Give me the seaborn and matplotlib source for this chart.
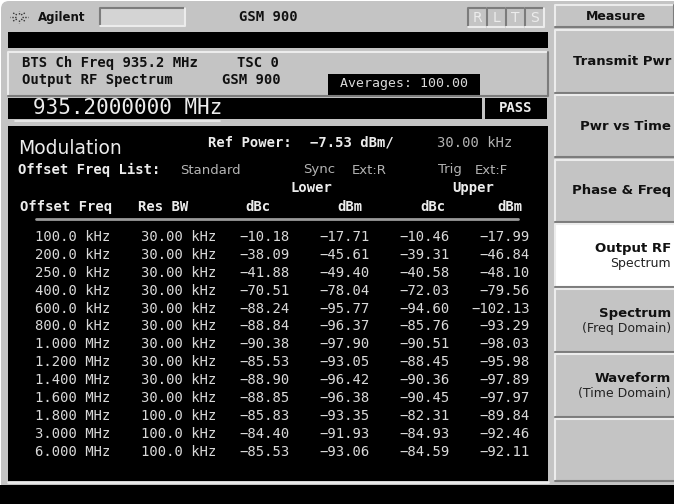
import matplotlib
matplotlib.use("Agg")
import matplotlib.pyplot as plt
from matplotlib.patches import Rectangle, FancyBboxPatch
import numpy as np
import seaborn as sns

# table
offset_freq = ["100.0 kHz", "200.0 kHz", "250.0 kHz", "400.0 kHz", "600.0 kHz",
               "800.0 kHz", "1.000 MHz", "1.200 MHz", "1.400 MHz", "1.600 MHz",
               "1.800 MHz", "3.000 MHz", "6.000 MHz"]
res_bw = ["30.00 kHz"] * 10 + ["100.0 kHz"] * 3
lower_dbc = [-10.18, -38.09, -41.88, -70.51, -88.24, -88.84, -90.38, -85.53,
             -88.90, -88.85, -85.83, -84.40, -85.53]
lower_dbm = [-17.71, -45.61, -49.40, -78.04, -95.77, -96.37, -97.90, -93.05,
             -96.42, -96.38, -93.35, -91.93, -93.06]
upper_dbc = [-10.46, -39.31, -40.58, -72.03, -94.60, -85.76, -90.51, -88.45,
             -90.36, -90.45, -82.31, -84.93, -84.59]
upper_dbm = [-17.99, -46.84, -48.10, -79.56, -102.13, -93.29, -98.03, -95.98,
             -97.89, -97.97, -89.84, -92.46, -92.11]

softkeys = [("Transmit Pwr", ""), ("Pwr vs Time", ""), ("Phase & Freq", ""),
            ("Output RF", "Spectrum"), ("Spectrum", "(Freq Domain)"),
            ("Waveform", "(Time Domain)"), ("", "")]
active_key = 3

sns.set_theme(style="white")
plt.rcParams['font.family'] = ['DejaVu Sans']
MONO = "DejaVu Sans Mono"

GRAY = "#c4c4c4"
LIGHT = "#ececec"
DARK = "#7c7c7c"
TXT = "#dadada"
DIM = "#b4b4b4"

fig = plt.figure(figsize=(6.74, 5.04), dpi=100)
ax = fig.add_axes([0, 0, 1, 1])
ax.set_xlim(0, 674)
ax.set_ylim(504, 0)
ax.axis("off")
fig.patch.set_facecolor("white")


def box(x0, y0, x1, y1, face=GRAY, bevel=True, inset=False):
    ax.add_patch(Rectangle((x0, y0), x1 - x0, y1 - y0, facecolor=face,
                           edgecolor="none"))
    if bevel:
        hi, lo = (DARK, LIGHT) if inset else (LIGHT, DARK)
        ax.plot([x0, x0, x1], [y1, y0, y0], color=hi, lw=1.5)
        ax.plot([x0, x1, x1], [y1, y1, y0], color=lo, lw=1.5)


# body of the instrument
ax.add_patch(FancyBboxPatch((1, 1), 680, 520, boxstyle="round,pad=0,rounding_size=8",
                            facecolor=GRAY, edgecolor="none"))

# title bar
cx, cy = 19, 17
for a in np.linspace(0, 2 * np.pi, 8, endpoint=False):
    ax.plot([cx + 3 * np.cos(a), cx + 9 * np.cos(a)],
            [cy + 3 * np.sin(a), cy + 6 * np.sin(a)],
            color="#333333", lw=1, ls=(0, (1, 1)))
ax.text(38, 17, "Agilent", fontsize=8.5, fontweight="bold", va="center", color="#111111")
box(100, 8, 185, 26, face="#d4d4d4", inset=True)
ax.text(268, 17, "GSM 900", family=MONO, fontsize=10, fontweight="bold",
        ha="center", va="center", color="#111111")
for i, ch in enumerate("RLTS"):
    box(468 + i * 19, 8, 487 + i * 19, 27, face=GRAY, inset=True)
    ax.text(477.5 + i * 19, 17.5, ch, fontsize=10, ha="center", va="center", color=LIGHT)

# black status strip
box(8, 32, 548, 48, face="black", bevel=False)

# channel info panel
box(8, 52, 548, 96)
ax.text(22, 63, "BTS Ch Freq 935.2 MHz", family=MONO, fontsize=10, fontweight="bold",
        va="center", color="#111111")
ax.text(237, 63, "TSC 0", family=MONO, fontsize=10, fontweight="bold",
        va="center", color="#111111")
ax.text(22, 80, "Output RF Spectrum", family=MONO, fontsize=10, fontweight="bold",
        va="center", color="#111111")
ax.text(222, 80, "GSM 900", family=MONO, fontsize=10, fontweight="bold",
        va="center", color="#111111")
box(328, 74, 480, 95, face="black", bevel=False)
ax.text(404, 84, "Averages: 100.00", family=MONO, fontsize=9.5, ha="center",
        va="center", color=TXT)

# frequency readout
box(8, 98, 482, 119, face="black", bevel=False)
ax.text(33, 108.5, "935.2000000 MHz", family=MONO, fontsize=15, va="center", color=LIGHT)
ax.plot([15, 220], [121, 121], color=LIGHT, lw=1.2)
box(485, 98, 547, 119, face="black", bevel=False)
ax.text(516, 108.5, "PASS", family=MONO, fontsize=10, fontweight="bold",
        ha="center", va="center", color=LIGHT)

# main results window
box(8, 126, 548, 482, face="black", bevel=False)
ax.plot([8, 548], [482, 482], color=LIGHT, lw=2)
box(0, 485, 674, 504, face="black", bevel=False)

ax.text(18, 148, "Modulation", fontsize=13.5, va="center", color=LIGHT)
ax.text(208, 143, "Ref Power:", family=MONO, fontsize=10, fontweight="bold",
        va="center", color=LIGHT)
ax.text(310, 143, "\u22127.53 dBm/", family=MONO, fontsize=10, fontweight="bold",
        va="center", color=LIGHT)
ax.text(437, 143, "30.00 kHz", family=MONO, fontsize=10, va="center", color=DIM)
ax.text(18, 170, "Offset Freq List:", family=MONO, fontsize=10, fontweight="bold",
        va="center", color=LIGHT)
ax.text(180, 170, "Standard", fontsize=9.5, va="center", color=DIM)
ax.text(303, 170, "Sync", fontsize=9.5, va="center", color=DIM)
ax.text(352, 170, "Ext:R", fontsize=9.5, va="center", color=DIM)
ax.text(438, 170, "Trig", fontsize=9.5, va="center", color=DIM)
ax.text(475, 170, "Ext:F", fontsize=9.5, va="center", color=DIM)
ax.text(311, 188, "Lower", family=MONO, fontsize=10, fontweight="bold",
        ha="center", va="center", color=LIGHT)
ax.text(473, 188, "Upper", family=MONO, fontsize=10, fontweight="bold",
        ha="center", va="center", color=LIGHT)

right_edges = [110, 216, 290, 370, 450, 530]
headers = ["Offset Freq", "Res BW", "dBc", "dBm", "dBc", "dBm"]
header_x = [20, 138, 245, 337, 420, 497]
for hx, h in zip(header_x, headers):
    ax.text(hx, 207, h, family=MONO, fontsize=10, fontweight="bold",
            va="center", color=LIGHT)
ax.plot([36, 518], [219, 219], color="#9a9a9a", lw=2)

fmt = lambda v: f"{v:.2f}".replace("-", "\u2212")
row_y0, row_dy = 237, 17.9
for i in range(len(offset_freq)):
    y = row_y0 + i * row_dy
    cells = [offset_freq[i], res_bw[i], fmt(lower_dbc[i]), fmt(lower_dbm[i]),
             fmt(upper_dbc[i]), fmt(upper_dbm[i])]
    for rx, c in zip(right_edges, cells):
        ax.text(rx, y, c, family=MONO, fontsize=10, ha="right", va="center", color=TXT)

# softkey column
box(555, 5, 674, 27)
ax.text(616, 16, "Measure", fontsize=9, fontweight="bold", ha="center",
        va="center", color="#111111")
key_top, key_h, key_gap = 30, 62.5, 2.3
kx = 671
for k, (main, sub) in enumerate(softkeys):
    y0 = key_top + k * (key_h + key_gap)
    box(555, y0, 676, y0 + key_h, face="white" if k == active_key else GRAY)
    mid = y0 + key_h / 2
    if sub:
        ax.text(kx, mid - 7, main, fontsize=9.5, fontweight="bold", ha="right",
                va="center", color="#111111")
        ax.text(kx, mid + 8, sub, fontsize=9, ha="right", va="center", color="#222222")
    elif main:
        ax.text(kx, mid, main, fontsize=9.5, fontweight="bold", ha="right",
                va="center", color="#111111")

fig.savefig("out.png", dpi=100)
